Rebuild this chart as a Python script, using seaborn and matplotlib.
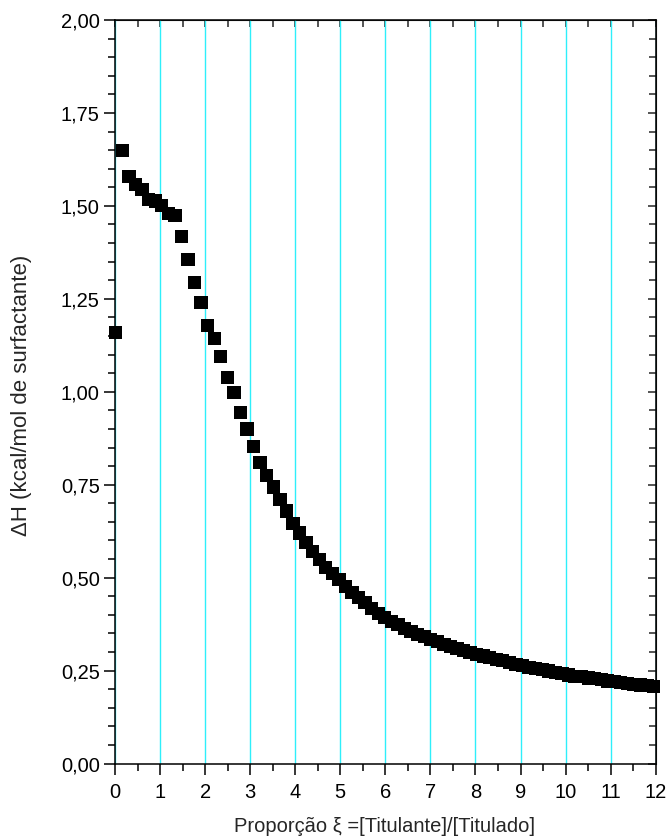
import matplotlib
matplotlib.use("Agg")
import matplotlib.pyplot as plt
from matplotlib.ticker import MultipleLocator, FuncFormatter
import seaborn as sns
import pandas as pd

# Data
ratio = [0.02, 0.17, 0.31, 0.46, 0.60, 0.75, 0.89, 1.04, 1.18, 1.33,
         1.47, 1.62, 1.77, 1.91, 2.06, 2.20, 2.35, 2.49, 2.64, 2.78,
         2.93, 3.08, 3.22, 3.37, 3.51, 3.66, 3.80, 3.95, 4.09, 4.24,
         4.38, 4.53, 4.68, 4.82, 4.97, 5.11, 5.26, 5.40, 5.55, 5.69,
         5.84, 5.99, 6.13, 6.28, 6.42, 6.57, 6.71, 6.86, 7.00, 7.15,
         7.30, 7.44, 7.59, 7.73, 7.88, 8.02, 8.17, 8.31, 8.46, 8.60,
         8.75, 8.90, 9.04, 9.19, 9.33, 9.48, 9.62, 9.77, 9.92, 10.06,
         10.21, 10.35, 10.50, 10.64, 10.79, 10.93, 11.08, 11.22, 11.37, 11.51,
         11.66, 11.81, 11.95]
enthalpy = [1.159, 1.648, 1.578, 1.558, 1.543, 1.518, 1.513, 1.502, 1.480, 1.474,
            1.417, 1.356, 1.293, 1.240, 1.178, 1.143, 1.095, 1.039, 0.998, 0.945,
            0.900, 0.852, 0.810, 0.775, 0.744, 0.711, 0.679, 0.646, 0.620, 0.595,
            0.571, 0.548, 0.527, 0.510, 0.495, 0.477, 0.461, 0.446, 0.432, 0.418,
            0.404, 0.392, 0.383, 0.373, 0.364, 0.356, 0.348, 0.341, 0.334, 0.328,
            0.321, 0.315, 0.310, 0.304, 0.299, 0.294, 0.289, 0.285, 0.280, 0.276,
            0.271, 0.267, 0.263, 0.259, 0.256, 0.252, 0.249, 0.245, 0.241, 0.238,
            0.235, 0.233, 0.230, 0.228, 0.225, 0.222, 0.220, 0.218, 0.216, 0.213,
            0.211, 0.209, 0.207]
x_ticks = [0, 1, 2, 3, 4, 5, 6, 7, 8, 9, 10, 11, 12]
y_ticks = [0.00, 0.25, 0.50, 0.75, 1.00, 1.25, 1.50, 1.75, 2.00]
x_label = "Proporção ξ =[Titulante]/[Titulado]"
y_label = "ΔH (kcal/mol de surfactante)"

df = pd.DataFrame({"ratio": ratio, "dH": enthalpy})

sns.set_style("ticks")
plt.rcParams["font.family"] = ["Liberation Sans", "DejaVu Sans"]

W, H = 669, 840
fig = plt.figure(figsize=(W / 100, H / 100), dpi=100)
left, right, top, bottom = 115, 655.7, 20, 763.5
ax = fig.add_axes([left / W, 1 - bottom / H, (right - left) / W, (bottom - top) / H])

ax.set_xlim(0, 12)
ax.set_ylim(0, 2)
ax.set_xticks(x_ticks)
ax.set_yticks(y_ticks)
ax.xaxis.set_minor_locator(MultipleLocator(0.5))
ax.yaxis.set_minor_locator(MultipleLocator(0.05))
ax.yaxis.set_major_formatter(FuncFormatter(lambda v, p: f"{v:.2f}".replace(".", ",")))

ax.grid(axis="x", which="major", color="#2EEFFA", linewidth=1.0)
ax.set_axisbelow(True)

sns.scatterplot(data=df, x="ratio", y="dH", ax=ax, marker="s", s=90,
                color="black", edgecolor="none", linewidth=0, zorder=3, clip_on=False)
ax.set_xlabel("")
ax.set_ylabel("")

for sp in ax.spines.values():
    sp.set_linewidth(1.1)
    sp.set_color("black")
    sp.set_zorder(4)

ax.tick_params(axis="both", which="major", direction="out", length=8, width=1.1,
               labelsize=14.5, color="black", labelcolor="black")
ax.tick_params(axis="both", which="minor", direction="out", length=5, width=1.1, color="black")
ax.tick_params(axis="x", which="major", pad=6)
ax.tick_params(axis="y", which="major", pad=3)

secx = ax.secondary_xaxis("top")
secx.set_xticks(x_ticks)
secx.xaxis.set_minor_locator(MultipleLocator(0.5))
secx.tick_params(which="both", direction="in", labeltop=False, width=1.1)
secx.tick_params(which="major", length=5)
secx.tick_params(which="minor", length=5)

secy = ax.secondary_yaxis("right")
secy.set_yticks(y_ticks)
secy.yaxis.set_minor_locator(MultipleLocator(0.05))
secy.tick_params(which="both", direction="in", labelright=False, width=1.1)
secy.tick_params(which="major", length=6)
secy.tick_params(which="minor", length=5)

fig.text(385 / W, 1 - 827 / H, x_label, fontsize=14.5, ha="center", va="center")
fig.text(22 / W, 1 - 395 / H, y_label, fontsize=16, ha="center", va="center",
         rotation=90)

fig.savefig("out.png", dpi=100, facecolor="white")
